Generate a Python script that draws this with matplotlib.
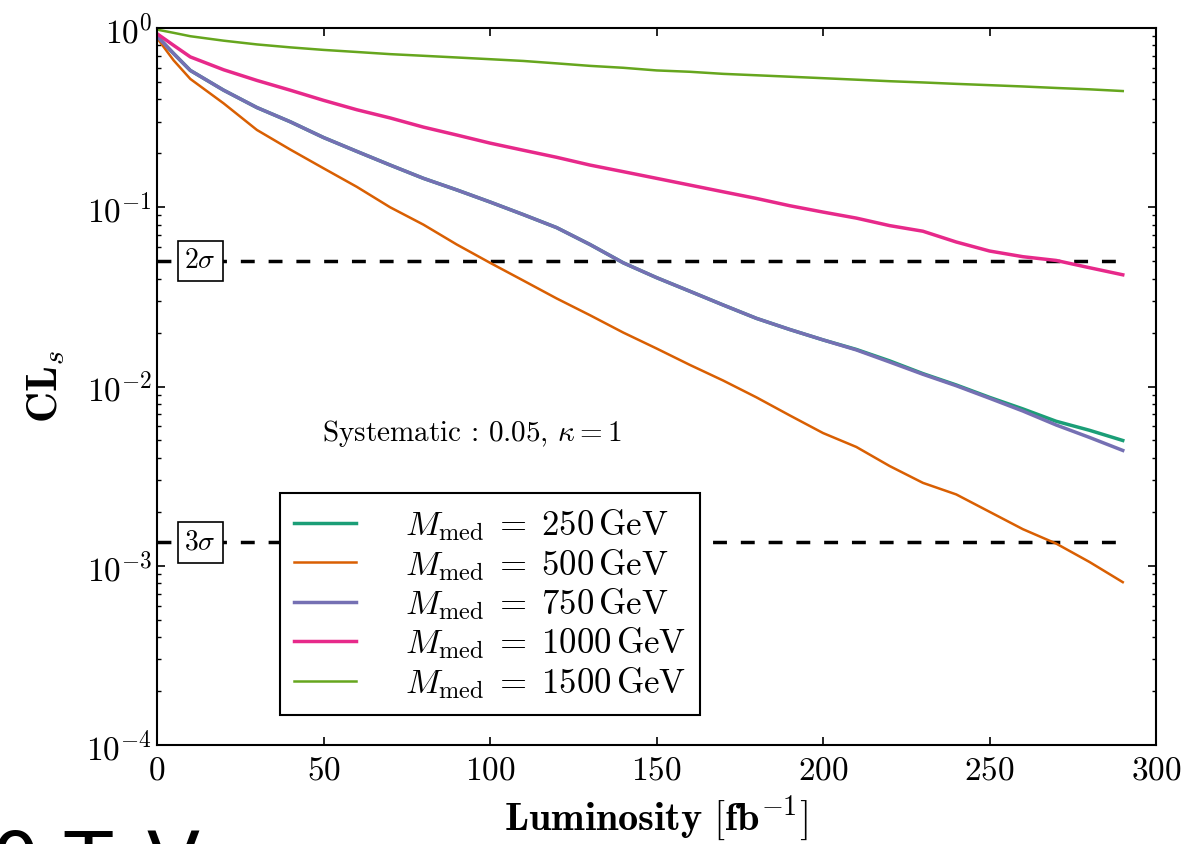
import matplotlib
matplotlib.use('Agg')
import matplotlib.pyplot as plt

plt.rcParams['font.family'] = ['cmr10', 'DejaVu Serif']
plt.rcParams['mathtext.fontset'] = 'cm'
plt.rcParams['axes.formatter.use_mathtext'] = True

# luminosity grid [fb^-1]
lumi = [0, 5, 10, 20, 30, 40, 50, 60, 70, 80, 90, 100, 110, 120, 130, 140, 150,
        160, 170, 180, 190, 200, 210, 220, 230, 240, 250, 260, 270, 280, 290]

# CLs values
cls_250 = [0.90, 0.72, 0.58, 0.45, 0.36, 0.30, 0.245, 0.205, 0.172, 0.145, 0.125,
           0.107, 0.091, 0.077, 0.062, 0.049, 0.0405, 0.034, 0.0285, 0.024, 0.0208,
           0.0182, 0.0161, 0.0139, 0.0118, 0.0102, 0.0087, 0.0075, 0.0064, 0.0057, 0.0050]
cls_500 = [0.88, 0.66, 0.52, 0.38, 0.27, 0.21, 0.165, 0.13, 0.10, 0.08, 0.062,
           0.049, 0.039, 0.031, 0.025, 0.020, 0.0163, 0.0132, 0.0108, 0.0087, 0.0069,
           0.0055, 0.0046, 0.0036, 0.0029, 0.0025, 0.0020, 0.0016, 0.00133, 0.00105, 0.00081]
cls_750 = [0.90, 0.72, 0.58, 0.45, 0.36, 0.30, 0.245, 0.205, 0.172, 0.145, 0.125,
           0.107, 0.091, 0.077, 0.062, 0.049, 0.0405, 0.034, 0.0285, 0.024, 0.0208,
           0.0182, 0.0160, 0.0137, 0.0117, 0.0101, 0.0086, 0.0073, 0.0061, 0.0052, 0.0044]
cls_1000 = [0.93, 0.80, 0.69, 0.585, 0.51, 0.45, 0.395, 0.35, 0.315, 0.28, 0.253,
            0.228, 0.208, 0.19, 0.172, 0.158, 0.145, 0.133, 0.122, 0.112, 0.102,
            0.094, 0.087, 0.079, 0.0735, 0.064, 0.057, 0.053, 0.0505, 0.046, 0.042]
cls_1500 = [0.98, 0.94, 0.90, 0.85, 0.81, 0.78, 0.755, 0.735, 0.715, 0.70, 0.685,
            0.67, 0.655, 0.635, 0.615, 0.60, 0.58, 0.57, 0.555, 0.545, 0.535,
            0.525, 0.515, 0.505, 0.497, 0.488, 0.48, 0.472, 0.463, 0.455, 0.445]

masses = [250, 500, 750, 1000, 1500]
series = [cls_250, cls_500, cls_750, cls_1000, cls_1500]
colors = ['#1b9e77', '#d95f02', '#7570b3', '#e7298a', '#66a61e']
widths = [2.5, 1.8, 2.5, 2.5, 1.8]

two_sigma = 0.05
three_sigma = 0.00135

fig = plt.figure(figsize=(11.84, 8.44), dpi=100)
ax = fig.add_axes([0.1326, 0.1173, 0.8438, 0.8495])

for m, y, c, w in zip(masses, series, colors, widths):
    ax.plot(lumi, y, color=c, lw=w, label=r'$M_{\rm med}\;=\;%d\,{\rm GeV}$' % m)

ax.plot([0, 290], [two_sigma, two_sigma], 'k--', lw=2.5, dashes=(4, 4), zorder=1)
ax.plot([0, 290], [three_sigma, three_sigma], 'k--', lw=2.5, dashes=(4, 4), zorder=1)
box = dict(boxstyle='square,pad=0.25', fc='white', ec='black', lw=1.2)
ax.text(13, two_sigma, r'$2\sigma$', fontsize=20, ha='center', va='center', bbox=box, zorder=5)
ax.text(13, three_sigma, r'$3\sigma$', fontsize=20, ha='center', va='center', bbox=box, zorder=5)

ax.text(49.5, 0.0055, r'Systematic : 0.05, $\kappa = 1$', fontsize=21, va='center')

ax.set_yscale('log')
ax.set_xlim(0, 300)
ax.set_ylim(1e-4, 1)
ax.set_xticks([0, 50, 100, 150, 200, 250, 300])
ax.tick_params(which='both', direction='in', top=True, right=True, labelsize=24)
ax.tick_params(axis='x', pad=8)
ax.tick_params(which='major', length=6, width=1.2)
ax.tick_params(which='minor', length=3, width=1)
for s in ax.spines.values():
    s.set_linewidth(1.5)

ax.set_xlabel(r'$\mathbf{Luminosity\ [fb}^{-1}\mathbf{]}$', fontsize=29, labelpad=6)
ax.set_ylabel(r'$\mathbf{CL}_s$', fontsize=31, labelpad=14)

leg = ax.legend(loc='upper left', bbox_to_anchor=(0.123, 0.351), fontsize=25,
                fancybox=False, edgecolor='black', framealpha=1,
                handlelength=1.8, handletextpad=1.4, labelspacing=0.1,
                borderpad=0.4, borderaxespad=0)
leg.get_frame().set_linewidth(1.5)

fig.text(0.169, -0.052, '100 TeV', fontsize=56, ha='right', va='baseline',
         family='DejaVu Sans')

fig.savefig('out.png', dpi=100)
